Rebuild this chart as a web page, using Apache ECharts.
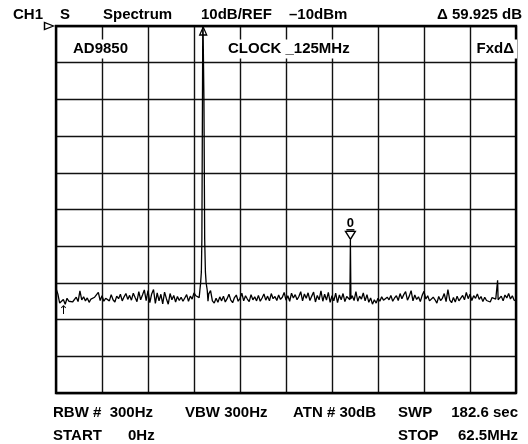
<!DOCTYPE html>
<html>
<head>
<meta charset="utf-8">
<script src="https://cdn.jsdelivr.net/npm/echarts@6/dist/echarts.min.js"></script>
<style>
html,body{margin:0;padding:0;background:#fff;}
#chart{width:528px;height:444px;}
</style>
</head>
<body>
<div id="chart"></div>
<script>
// Span and scale
const startMHz = 0;
const stopMHz = 62.5;
const stepMHz = 0.25;
const refLevel = -10;   // dBm, top of screen
const bottomLevel = -110;
const dbPerDiv = 10;

// Noise-floor trace, one value per 0.25 MHz (251 points), dBm
const noiseLevels = [
  -81.5, -83.0, -85.5, -86.0, -84.5, -85.8, -84.2, -85.0, -84.6, -85.2,
  -84.8, -83.9, -85.1, -82.2, -84.6, -83.8, -84.9, -84.1, -85.3, -84.4,
  -84.7, -83.9, -84.3, -82.6, -84.8, -83.5, -85.0, -84.2, -83.7, -84.9,
  -83.2, -84.6, -85.2, -83.6, -84.3, -83.1, -84.9, -83.8, -82.9, -84.5,
  -83.4, -84.7, -82.8, -84.0, -85.1, -82.4, -84.6, -83.3, -81.9, -84.8,
  -82.1, -85.4, -83.0, -81.8, -85.6, -82.7, -84.9, -83.1, -85.7, -82.5,
  -84.3, -85.8, -82.9, -84.6, -83.4, -85.2, -83.7, -84.8, -83.9, -85.0,
  -84.1, -83.2, -85.0, -83.6, -84.4, -82.7, -83.5, -84.0, -83.6, -84.0,
  -84.0, -84.0, -83.2, -83.0, -82.1, -84.9, -85.5, -84.2, -85.3, -83.8,
  -84.9, -83.6, -85.2, -84.3, -83.1, -84.7, -85.4, -84.0, -83.3, -85.0,
  -84.2, -82.8, -84.9, -83.5, -84.4, -85.1, -83.2, -84.6, -83.8, -84.9,
  -83.4, -85.0, -84.1, -83.0, -84.7, -83.6, -84.9, -82.9, -84.3, -83.7,
  -84.8, -83.3, -84.5, -83.9, -82.6, -84.7, -83.5, -85.0, -82.8, -84.1,
  -83.2, -84.6, -83.7, -82.4, -84.9, -83.0, -84.2, -82.7, -84.8, -83.6,
  -82.5, -85.2, -83.4, -84.6, -82.2, -85.0, -83.1, -84.7, -82.6, -85.3,
  -83.5, -84.9, -82.8, -85.4, -83.3, -84.6, -82.9, -85.1, -83.7, -84.2,
  -84.0, -83.5, -84.8, -82.4, -85.0, -83.6, -84.4, -82.7, -84.9, -83.2,
  -85.3, -84.1, -85.8, -84.6, -85.5, -84.2, -85.0, -83.8, -84.7, -85.2,
  -83.9, -84.6, -83.4, -85.0, -84.1, -83.5, -84.8, -82.9, -84.3, -83.2,
  -82.4, -84.7, -83.6, -82.1, -84.9, -83.3, -84.5, -83.8, -85.1, -83.4,
  -82.3, -84.4, -83.5, -84.9, -85.3, -83.9, -84.6, -85.5, -83.7, -84.8,
  -84.2, -82.9, -85.1, -81.8, -84.7, -85.4, -84.0, -85.2, -83.6, -84.9,
  -85.0, -83.4, -84.6, -82.6, -84.3, -83.1, -84.8, -83.5, -84.2, -83.0,
  -84.5, -83.7, -85.1, -83.9, -84.8, -84.3, -85.2, -84.0, -83.6, -84.4,
  -84.0, -84.8, -83.6, -84.9, -83.3, -84.1, -82.9, -84.4, -83.5, -84.7,
  -84.9
];

// Carrier (20 MHz fundamental) detail points
const carrierFreqs  = [19.45, 19.55, 19.65, 19.75, 19.82, 19.9, 19.95, 20.05, 20.1, 20.2, 20.3, 20.4, 20.55, 20.65];
const carrierLevels = [-84.0, -82.0, -80.0, -77.0, -68.0, -30.0, -5.0, -5.0, -30.0, -68.0, -77.0, -80.0, -82.0, -85.0];
const carrierLo = 19.4, carrierHi = 20.7;

// Narrow spurs: 2nd harmonic (40 MHz) and 3rd harmonic (60 MHz)
const spurFreqs  = [39.93, 40.0, 40.07, 59.93, 60.0, 60.07];
const spurLevels = [-84.6, -68.3, -84.3, -84.5, -79.3, -84.6];

// Markers
const refMarker = [20, -10];      // delta reference marker
const spurMarker = [40, -68];     // marker "0" on 2nd harmonic
const startArrow = [1, -87.5];

// Build trace
const trace = [];
noiseLevels.forEach((v, i) => {
  const f = startMHz + i * stepMHz;
  if (f > carrierLo && f < carrierHi) return;
  if (f === 40 || f === 60) return;
  trace.push([f, v]);
});
carrierFreqs.forEach((f, i) => trace.push([f, carrierLevels[i]]));
spurFreqs.forEach((f, i) => trace.push([f, spurLevels[i]]));
trace.sort((a, b) => a[0] - b[0]);

const FONT = '"Liberation Sans", Arial, Helvetica, sans-serif';
function txt(x, y, s, align, bg) {
  return {
    type: 'text', x: x, y: y, z: 100,
    style: {
      text: s, fill: '#000', font: 'bold 15px ' + FONT,
      textAlign: align || 'left', textVerticalAlign: 'middle',
      backgroundColor: bg ? '#fff' : undefined, padding: bg ? [2, 3] : 0
    }
  };
}

const chart = echarts.init(document.getElementById('chart'), null, {renderer: 'canvas'});
chart.setOption({
  animation: false,
  backgroundColor: '#fff',
  grid: {
    left: 56, right: 12, top: 26, bottom: 51,
    show: true, borderColor: '#000', borderWidth: 2.4, backgroundColor: 'transparent', z: 5
  },
  xAxis: {
    type: 'value', min: startMHz, max: stopMHz, interval: (stopMHz - startMHz) / 10,
    axisLine: {show: false}, axisTick: {show: false}, axisLabel: {show: false},
    splitLine: {show: true, lineStyle: {color: '#111', width: 1.4}}
  },
  yAxis: {
    type: 'value', min: bottomLevel, max: refLevel, interval: dbPerDiv,
    axisLine: {show: false}, axisTick: {show: false}, axisLabel: {show: false},
    splitLine: {show: true, lineStyle: {color: '#111', width: 1.4}}
  },
  series: [{
    type: 'line',
    data: trace,
    showSymbol: false,
    clip: true,
    lineStyle: {color: '#000', width: 1.3},
    z: 3,
    markPoint: {
      animation: false,
      data: [
        {coord: refMarker, symbol: 'triangle', symbolSize: [7, 8], symbolOffset: [0, 5],
         itemStyle: {color: 'rgba(0,0,0,0)', borderColor: '#000', borderWidth: 1.3}, label: {show: false}},
        {coord: [0, refLevel], symbol: 'triangle', symbolSize: [7, 9], symbolRotate: -90, symbolOffset: [-7, 0],
         itemStyle: {color: '#fff', borderColor: '#000', borderWidth: 1.3}, label: {show: false}},
        {coord: spurMarker, symbol: 'triangle', symbolSize: [10, 8], symbolRotate: 180, symbolOffset: [0, -3.5],
         itemStyle: {color: '#fff', borderColor: '#000', borderWidth: 1.3}, label: {show: false}},
        {coord: spurMarker, symbol: 'rect', symbolSize: [8, 1.5], symbolOffset: [0, -9],
         itemStyle: {color: '#000'}, label: {show: false}},
        {coord: spurMarker, symbol: 'rect', symbolSize: [1, 1], symbolOffset: [0, -15.5],
         itemStyle: {color: 'rgba(0,0,0,0)'},
         label: {show: true, position: 'inside', formatter: '0', color: '#000', fontWeight: 'bold', fontSize: 13, fontFamily: FONT}},
        {coord: startArrow, symbol: 'rect', symbolSize: [1, 1],
         itemStyle: {color: 'rgba(0,0,0,0)'},
         label: {show: true, position: 'inside', formatter: '↑', color: '#000', fontSize: 12, fontFamily: '"DejaVu Sans", sans-serif'}}
      ]
    }
  }],
  graphic: [
    txt(13, 15, 'CH1'),
    txt(60, 15, 'S'),
    txt(103, 15, 'Spectrum'),
    txt(201, 15, '10dB/REF'),
    txt(289, 15, '–10dBm'),
    txt(522, 15, 'Δ 59.925 dB', 'right'),
    txt(70, 49, 'AD9850', 'left', true),
    txt(225, 49, 'CLOCK _125MHz', 'left', true),
    txt(517, 49, 'FxdΔ', 'right', true),
    txt(53, 413, 'RBW #  300Hz'),
    txt(185, 413, 'VBW 300Hz'),
    txt(293, 413, 'ATN # 30dB'),
    txt(398, 413, 'SWP'),
    txt(518, 413, '182.6 sec', 'right'),
    txt(53, 436, 'START'),
    txt(128, 436, '0Hz'),
    txt(398, 436, 'STOP'),
    txt(518, 436, '62.5MHz', 'right')
  ]
});
</script>
</body>
</html>
